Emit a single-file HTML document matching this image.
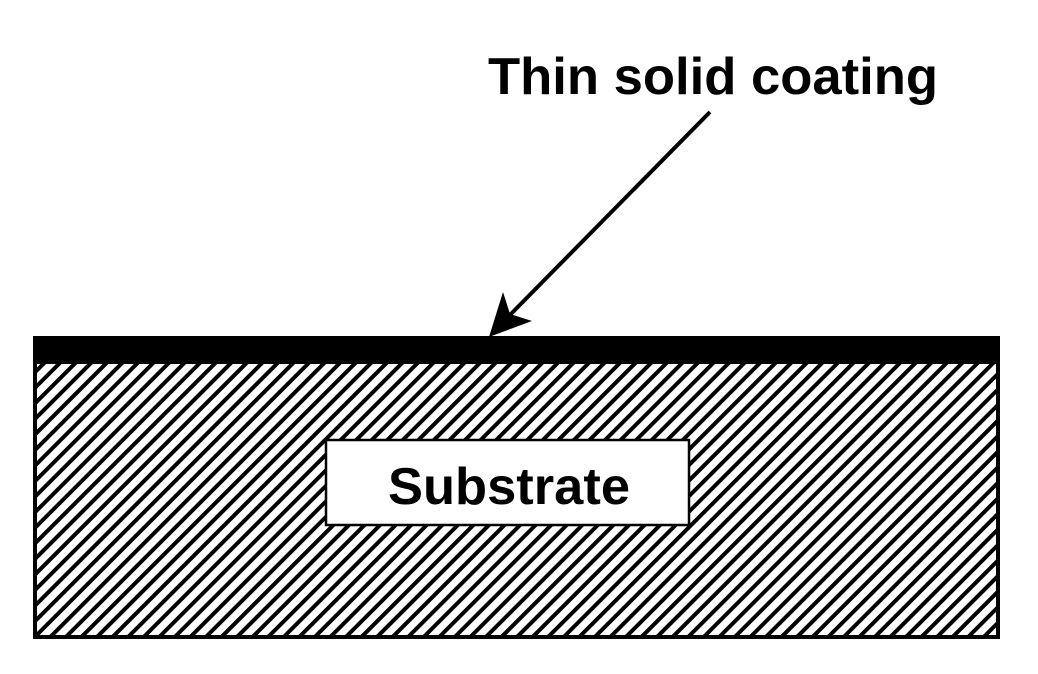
<!DOCTYPE html>
<html><head><style>html,body{margin:0;padding:0;background:#fff;}</style></head>
<body>
<svg width="1038" height="669" viewBox="0 0 1038 669" xmlns="http://www.w3.org/2000/svg">
<defs>
<pattern id="h" patternUnits="userSpaceOnUse" width="11" height="11" patternTransform="rotate(45)">
<rect width="11" height="11" fill="#fff"/>
<rect x="0" y="0" width="4" height="11" fill="#000"/>
</pattern>
</defs>
<rect x="35" y="362" width="963" height="275" fill="url(#h)" stroke="#000" stroke-width="4"/>
<rect x="33" y="336" width="967" height="28" fill="#000"/>
<rect x="326" y="440" width="363" height="85" fill="#fff" stroke="#000" stroke-width="2.5"/>
<text x="388" y="504" font-family="Liberation Sans, Arial, sans-serif" font-weight="bold" font-size="52" textLength="242" lengthAdjust="spacingAndGlyphs">Substrate</text>
<text x="488" y="94" font-family="Liberation Sans, Arial, sans-serif" font-weight="bold" font-size="52" textLength="450" lengthAdjust="spacingAndGlyphs">Thin solid coating</text>
<line x1="710" y1="112" x2="505" y2="320" stroke="#000" stroke-width="4"/>
<polygon points="489,337 503,292 510,314 532,321" fill="#000"/>
</svg>
</body></html>
